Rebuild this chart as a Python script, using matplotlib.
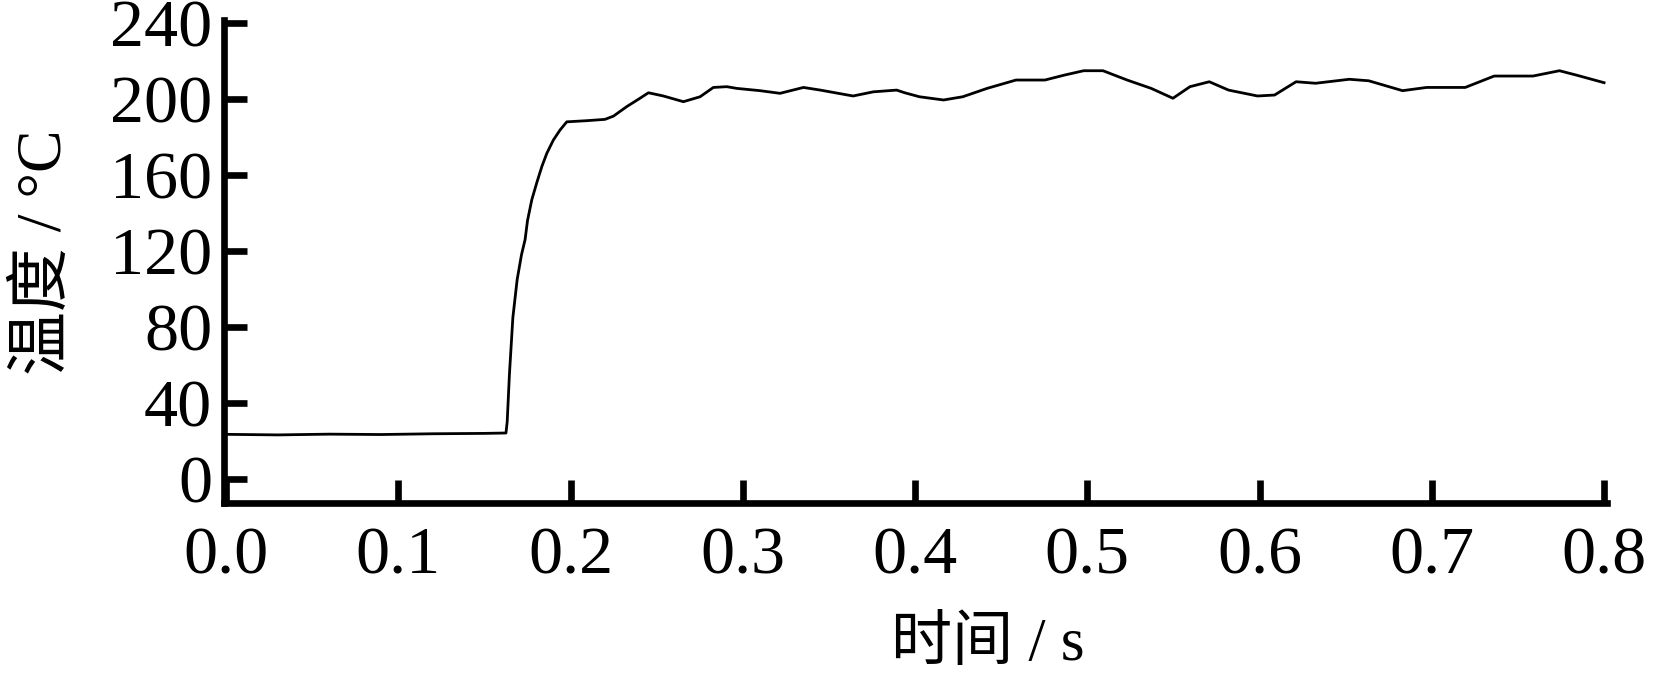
import matplotlib
matplotlib.use("Agg")
import matplotlib.pyplot as plt

# temperature trace
time_s = [0.0, 0.03, 0.06, 0.09, 0.12, 0.15, 0.1625,
          0.1632, 0.1645, 0.1665, 0.1690, 0.1715, 0.1736, 0.1750, 0.1775,
          0.1804, 0.1833, 0.1862, 0.1900, 0.1939, 0.1978, 0.2094, 0.2200,
          0.2249, 0.2326, 0.2403, 0.2452, 0.2539, 0.2655, 0.2752, 0.2829,
          0.2907, 0.2965, 0.3100, 0.3216, 0.3352, 0.3450, 0.3640, 0.3758,
          0.3893, 0.3940, 0.4025, 0.4165, 0.4277, 0.4418, 0.4586, 0.4754,
          0.4867, 0.4979, 0.5091, 0.5231, 0.5371, 0.5497, 0.5596, 0.5708,
          0.5820, 0.5988, 0.6087, 0.6212, 0.6325, 0.6521, 0.6634, 0.6830,
          0.6970, 0.7194, 0.7362, 0.7587, 0.7741, 0.7839, 0.8000]
temp_c = [23.5, 23.2, 23.6, 23.4, 23.8, 24.0, 24.2,
          30.0, 55.0, 85.0, 105.0, 118.0, 126.0, 136.0, 147.0,
          156.0, 164.4, 171.4, 178.4, 183.7, 188.0, 188.6, 189.3,
          191.0, 196.0, 200.4, 203.3, 201.6, 198.6, 201.2, 206.1,
          206.5, 205.6, 204.4, 203.0, 206.1, 204.7, 201.6, 203.8,
          204.7, 203.3, 201.2, 199.5, 201.2, 205.6, 210.0, 210.0,
          212.6, 214.9, 214.9, 210.0, 205.6, 200.4, 206.5, 209.1,
          204.7, 201.6, 202.1, 209.1, 208.3, 210.4, 209.6, 204.4,
          206.1, 206.1, 212.1, 212.1, 214.9, 212.6, 208.6]

x_ticks = [0.0, 0.1, 0.2, 0.3, 0.4, 0.5, 0.6, 0.7, 0.8]
y_ticks = [0, 40, 80, 120, 160, 200, 240]

serif = ["Liberation Serif", "DejaVu Serif"]
label_fonts = ["Liberation Serif", "Noto Sans CJK SC"]

fig = plt.figure(figsize=(16.54, 6.74), dpi=100)
ax = fig.add_axes([224 / 1654, (674 - 503.3) / 674, 1383 / 1654, 483.3 / 674])

ax.plot(time_s, temp_c, color="black", lw=2.0)

ax.set_xlim(-0.0012, 0.8017)
ax.set_ylim(-12.8, 241.6)
ax.set_xticks(x_ticks)
ax.set_yticks(y_ticks)
ax.set_xticklabels([f"{v:.1f}" for v in x_ticks], family=serif, fontsize=49)
ax.set_yticklabels([str(v) for v in y_ticks], family=serif, fontsize=49)

for side in ["top", "right"]:
    ax.spines[side].set_visible(False)
for side in ["left", "bottom"]:
    ax.spines[side].set_linewidth(4.8)
ax.tick_params(axis="both", direction="in", length=16.5, width=4.8, color="black")
ax.tick_params(axis="x", pad=16.5)
ax.tick_params(axis="y", pad=8.5)

ax.set_xlabel("时间 / s", family=label_fonts, fontsize=44, va="center")
ax.xaxis.set_label_coords(0.552, -0.294)
ax.set_ylabel("温度 / °C", family=label_fonts, fontsize=46, va="center")
ax.yaxis.set_label_coords(-0.129, 0.519)

fig.savefig("out.png", dpi=100)
